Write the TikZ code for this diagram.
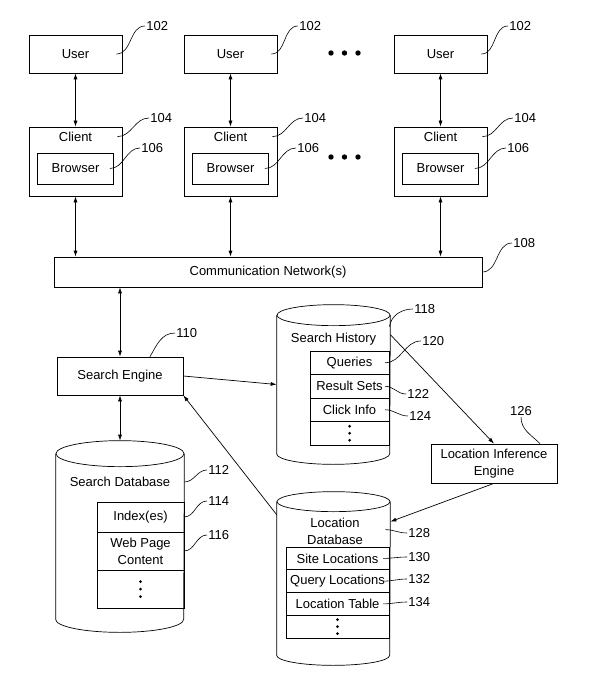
\documentclass[tikz,border=0pt]{standalone}
\usepackage{fontspec}
\setmainfont{Liberation Sans}
\usetikzlibrary{arrows.meta,positioning}

\newcommand{\drawdb}[3]{%
  \draw ([yshift=-#3]#1.north west) -- ([yshift=#3]#1.south west)
    arc[start angle=180, end angle=360, x radius=#2, y radius=#3]
    -- ([yshift=-#3]#1.north east);
  \draw ([yshift=-#3]#1.north) ellipse[x radius=#2, y radius=#3];}

\begin{document}
\begin{tikzpicture}[x=1pt, y=-1pt, line width=0.7pt,
    font=\fontsize{13}{17}\selectfont,
    box/.style={draw, inner sep=0pt, align=center},
    ubox/.style={box, minimum width=93pt, minimum height=38pt},
    cbox/.style={box, minimum width=93pt, minimum height=69pt},
    bbox/.style={box, minimum width=76pt, minimum height=31pt},
    row/.style={draw, inner sep=0pt, outer sep=0pt, align=center},
    num/.style={anchor=west, inner sep=1pt},
    lead/.style={line width=0.6pt},
    arr/.style={-{Latex[length=6pt,width=4pt]}},
    both/.style={{Latex[length=6pt,width=4pt]}-{Latex[length=6pt,width=4pt]}}]
    \useasboundingbox (0,0) rectangle (594,687);

    \node[ubox] (u1) at (75.5,54) {User};
    \node[ubox] (u2) at (230.5,54) {User};
    \node[ubox] (u3) at (440.5,54) {User};
    \node[cbox] (c1) at (75.5,161.5) {};
    \node[cbox] (c2) at (230.5,161.5) {};
    \node[cbox] (c3) at (440.5,161.5) {};
    \node (ct1) at ([yshift=-10pt]c1.north) {Client};
    \node (ct2) at ([yshift=-10pt]c2.north) {Client};
    \node (ct3) at ([yshift=-10pt]c3.north) {Client};
    \node[bbox] (b1) at (75.5,168.5) {Browser};
    \node[bbox] (b2) at (230.5,168.5) {Browser};
    \node[bbox] (b3) at (440.5,168.5) {Browser};
    \foreach \x in {331,344.5,358} {
        \fill (\x,53) circle (2.7pt);
        \fill (\x,157) circle (2.7pt);
    }

    \node[box, minimum width=428pt, minimum height=30pt] (net) at (268,272) {Communication Network(s)};
    \node[box, minimum width=126pt, minimum height=38pt] (se) at (120,376) {Search Engine};
    \node[box, minimum width=126pt, minimum height=39pt] (lie) at (494,463.5) {Location Inference\\Engine};

    \node[minimum width=128pt, minimum height=191pt, inner sep=0pt] (sdb) at (120,536.5) {};
    \drawdb{sdb}{64pt}{13pt}
    \node (sdbt) at (120,482) {Search Database};
    \node[row, minimum width=87pt, minimum height=30pt] (idx) at (140.5,517) {Index(es)};
    \node[row, minimum width=87pt, minimum height=38pt, below=0pt of idx] (web) {Web Page\\Content};
    \node[row, minimum width=87pt, minimum height=38pt, below=0pt of web] (sdots) {};

    \node[minimum width=113pt, minimum height=159pt, inner sep=0pt] (hist) at (333.5,384.5) {};
    \drawdb{hist}{56.5pt}{10.5pt}
    \node (histt) at (333.5,339) {Search History};
    \node[row, minimum width=79pt, minimum height=23.5pt] (q) at (349.5,362.75) {Queries};
    \node[row, minimum width=79pt, minimum height=23.5pt, below=0pt of q] (rs) {Result Sets};
    \node[row, minimum width=79pt, minimum height=23.5pt, below=0pt of rs] (ci) {Click Info};
    \node[row, minimum width=79pt, minimum height=23.5pt, below=0pt of ci] (hdots) {};

    \node[minimum width=113pt, minimum height=173pt, inner sep=0pt] (locdb) at (333.5,578.5) {};
    \drawdb{locdb}{56.5pt}{10pt}
    \node[align=center, inner sep=0pt] (locdbt) at (335,531) {Location\\Database};
    \node[row, minimum width=103pt, minimum height=22.75pt] (site) at (337.5,558.4) {Site Locations};
    \node[row, minimum width=103pt, minimum height=22.75pt, below=0pt of site] (query) {Query Locations};
    \node[row, minimum width=103pt, minimum height=22.75pt, below=0pt of query] (ltab) {Location Table};
    \node[row, minimum width=103pt, minimum height=22.75pt, below=0pt of ltab] (ldots) {};

    \foreach \d in {-7.5,0,7.5} \fill ([yshift=\d pt]sdots.center) circle (1.5pt);
    \foreach \d in {-7,0,7} \fill ([yshift=\d pt]hdots.center) circle (1.5pt);
    \foreach \d in {-7,0,7} \fill ([yshift=\d pt]ldots.center) circle (1.5pt);

    \draw[both] (u1) -- (c1);
    \draw[both] (u2) -- (c2);
    \draw[both] (u3) -- (c3);
    \draw[both] (c1.south) -- (c1.south |- net.north);
    \draw[both] (c2.south) -- (c2.south |- net.north);
    \draw[both] (c3.south) -- (c3.south |- net.north);
    \draw[both] (net.south -| se.north) -- (se.north);
    \draw[both] (se.south) -- (sdb.north);
    \draw[arr] (se.east) -- (hist.west);
    \draw[arr] ([yshift=-23pt]locdb.north west) -- (se.south east);
    \draw[arr] ([yshift=-30pt]hist.north east) -- (lie.north);
    \draw[arr] (lie.south) -- ([yshift=-30pt]locdb.north east);

    \node[num] (n102a) at (145,26) {102};
    \node[num] (n102b) at (298,26) {102};
    \node[num] (n102c) at (508,26) {102};
    \node[num] (n104a) at (149,118) {104};
    \node[num] (n104b) at (303,118) {104};
    \node[num] (n104c) at (513,118) {104};
    \node[num] (n106a) at (140,148) {106};
    \node[num] (n106b) at (296,148) {106};
    \node[num] (n106c) at (506,148) {106};
    \node[num] (n108) at (512,243) {108};
    \node[num] (n110) at (175,333) {110};
    \node[num] (n112) at (207,470) {112};
    \node[num] (n114) at (207,501) {114};
    \node[num] (n116) at (207,535) {116};
    \node[num] (n118) at (413,309) {118};
    \node[num] (n120) at (421,341) {120};
    \node[num] (n122) at (406,394) {122};
    \node[num] (n124) at (408,416) {124};
    \node[num, anchor=south] (n126) at (521,417) {126};
    \node[num] (n128) at (407,533) {128};
    \node[num] (n130) at (407,557) {130};
    \node[num] (n132) at (407,579) {132};
    \node[num] (n134) at (407,602) {134};

    \draw[lead] ([xshift=-6pt]u1.east) to[out=0,in=180] (n102a.west);
    \draw[lead] ([xshift=-6pt]u2.east) to[out=0,in=180] (n102b.west);
    \draw[lead] ([xshift=-6pt]u3.east) to[out=0,in=180] (n102c.west);
    \draw[lead] ([xshift=-5pt]ct1 -| c1.east) to[out=0,in=180] (n104a.west);
    \draw[lead] ([xshift=-5pt]ct2 -| c2.east) to[out=0,in=180] (n104b.west);
    \draw[lead] ([xshift=-5pt]ct3 -| c3.east) to[out=0,in=180] (n104c.west);
    \draw[lead] ([xshift=-4pt]b1.east) to[out=0,in=180] (n106a.west);
    \draw[lead] ([xshift=-4pt]b2.east) to[out=0,in=180] (n106b.west);
    \draw[lead] ([xshift=-4pt]b3.east) to[out=0,in=180] (n106c.west);
    \draw[lead] (net.east) to[out=0,in=180] (n108.west);
    \draw[lead] ([xshift=30pt]se.north) to[out=60,in=180] (n110.west);
    \draw[lead] (sdbt -| sdb.east) to[out=0,in=180] (n112.west);
    \draw[lead] (idx.east) to[out=0,in=180] (n114.west);
    \draw[lead] (web.east) to[out=0,in=180] (n116.west);
    \draw[lead] ([xshift=-1pt,yshift=-22pt]hist.north east) to[out=80,in=180] (n118.west);
    \draw[lead] ([xshift=-4pt]q.east) to[out=0,in=180] (n120.west);
    \draw[lead] ([xshift=-4pt]rs.east) to[out=0,in=180] (n122.west);
    \draw[lead] ([xshift=-4pt]ci.east) to[out=0,in=180] (n124.west);
    \draw[lead] ([xshift=46pt]lie.north) to[out=135,in=-90] (n126.south);
    \draw[lead] ([xshift=-5pt,yshift=-38pt]locdb.north east) to[out=0,in=180] (n128.west);
    \draw[lead] ([xshift=-6pt]site.east) to[out=0,in=180] (n130.west);
    \draw[lead] ([xshift=-6pt]query.east) to[out=0,in=180] (n132.west);
    \draw[lead] ([xshift=-6pt]ltab.east) to[out=0,in=180] (n134.west);
\end{tikzpicture}
\end{document}
